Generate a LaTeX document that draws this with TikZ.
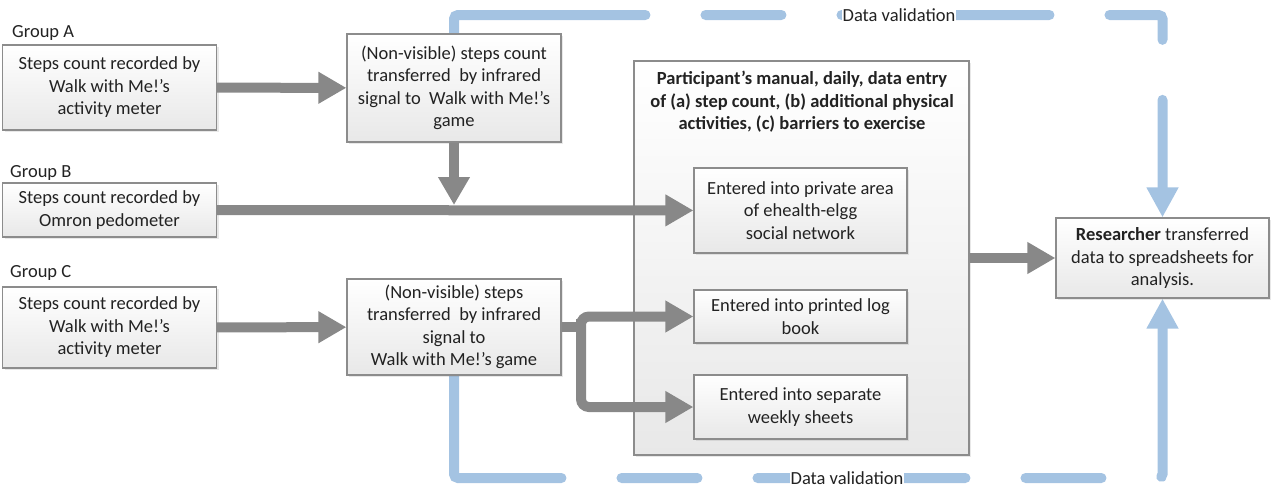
\documentclass[tikz,border=0pt]{standalone}
\usepackage{fontspec}
\setmainfont{Carlito}
\usetikzlibrary{arrows.meta,backgrounds,shadows}
\definecolor{marco}{HTML}{8C8C8C}
\definecolor{flecha}{HTML}{888888}
\definecolor{valida}{HTML}{A4C3E2}
\definecolor{texto}{HTML}{222222}
\newcommand{\boxfont}{\fontsize{18.5}{22.5}\selectfont}
\tikzset{
  box/.style={draw=marco,line width=1.2pt,top color=white,bottom color=black!9,
    drop shadow={shadow xshift=2pt,shadow yshift=-2pt,opacity=.18},
    align=center,inner sep=2pt,text=texto,font=\boxfont},
  grp/.style={anchor=west,inner sep=0pt,text=texto,font=\boxfont},
  vlabel/.style={fill=white,inner xsep=1pt,inner ysep=0pt,text=texto,font=\boxfont},
  flow/.style={draw=flecha,line width=10pt,>={Triangle[width=30pt,length=28pt]},->},
  valid/.style={draw=valida,line width=10pt,line cap=round,rounded corners=4pt,
    dash pattern=on 208pt off 60pt on 76pt off 60pt,
    >={Triangle[width=30pt,length=30pt]},->},
}
\begin{document}
\begin{tikzpicture}[x=1pt,y=-1pt]
  \useasboundingbox (0,0) rectangle (1273,498);
  % --- grupos ---
  \node[grp] (gA) at (12,33) {Group A};
  \node[box,minimum width=214,minimum height=85] (A1) at (109.5,87.5)
        {Steps count recorded by\\Walk with Me!’s\\activity meter};
  \node[box,minimum width=214,minimum height=108] (A2) at (454,88)
        {(Non-visible) steps count\\transferred \ by infrared\\signal to \ Walk with Me!’s\\game};
  \node[grp] (gB) at (10,173) {Group B};
  \node[box,minimum width=214,minimum height=54] (B1) at (109.5,210)
        {Steps count recorded by\\Omron pedometer};
  \node[grp] (gC) at (10,273) {Group C};
  \node[box,minimum width=214,minimum height=81] (C1) at (109.5,327.5)
        {Steps count recorded by\\Walk with Me!’s\\activity meter};
  \node[box,minimum width=214,minimum height=96] (C2) at (454,327)
        {(Non-visible) steps\\transferred \ by infrared\\signal to\\Walk with Me!’s game};
  % --- registro del participante ---
  \node[box,minimum width=335,minimum height=394] (P) at (801.5,258) {};
  \node[text=texto,font=\boxfont\bfseries,align=center] (Ptitle) at (802,102)
        {Participant’s manual, daily, data entry\\of (a) step count, (b) additional physical\\activities, (c) barriers to exercise};
  \node[box,minimum width=213,minimum height=85] (P1) at (800.5,210.5)
        {Entered into private area\\of ehealth-elgg\\social network};
  \node[box,minimum width=213,minimum height=53] (P2) at (800.5,316.5)
        {Entered into printed log\\book};
  \node[box,minimum width=213,minimum height=64] (P3) at (800.5,407)
        {Entered into separate\\weekly sheets};
  \node[box,minimum width=213,minimum height=80] (R) at (1162.5,258)
        {\textbf{Researcher} transferred\\data to spreadsheets for\\analysis.};
  % --- flechas grises ---
  \coordinate (join) at (454,210);
  \coordinate (split) at (581,327);
  \draw[flow] (A1) -- (A2);
  \draw[flow,shorten >=5pt] (A2) -- (join);
  \draw[flow] (B1) -- (P1);
  \draw[flow] (C1) -- (C2);
  \draw[flow,-] (C2) -- (split);
  \draw[flow,<->,rounded corners=8pt] (P2.west) -| (split) |- (P3.west);
  \draw[flow] (P) -- (R);
  % --- validacion de datos ---
  \coordinate (vtop) at (454,15);
  \coordinate (vbot) at (454,478);
  \node[vlabel] (vlab1) at (899,15) {Data validation};
  \node[vlabel] (vlab2) at (847,478) {Data validation};
  \begin{scope}[on background layer]
    \draw[valid] (A2.north) -- (vtop) -| (R.north);
    \draw[valid] (C2.south) -- (vbot) -| (R.south);
  \end{scope}
\end{tikzpicture}
\end{document}
